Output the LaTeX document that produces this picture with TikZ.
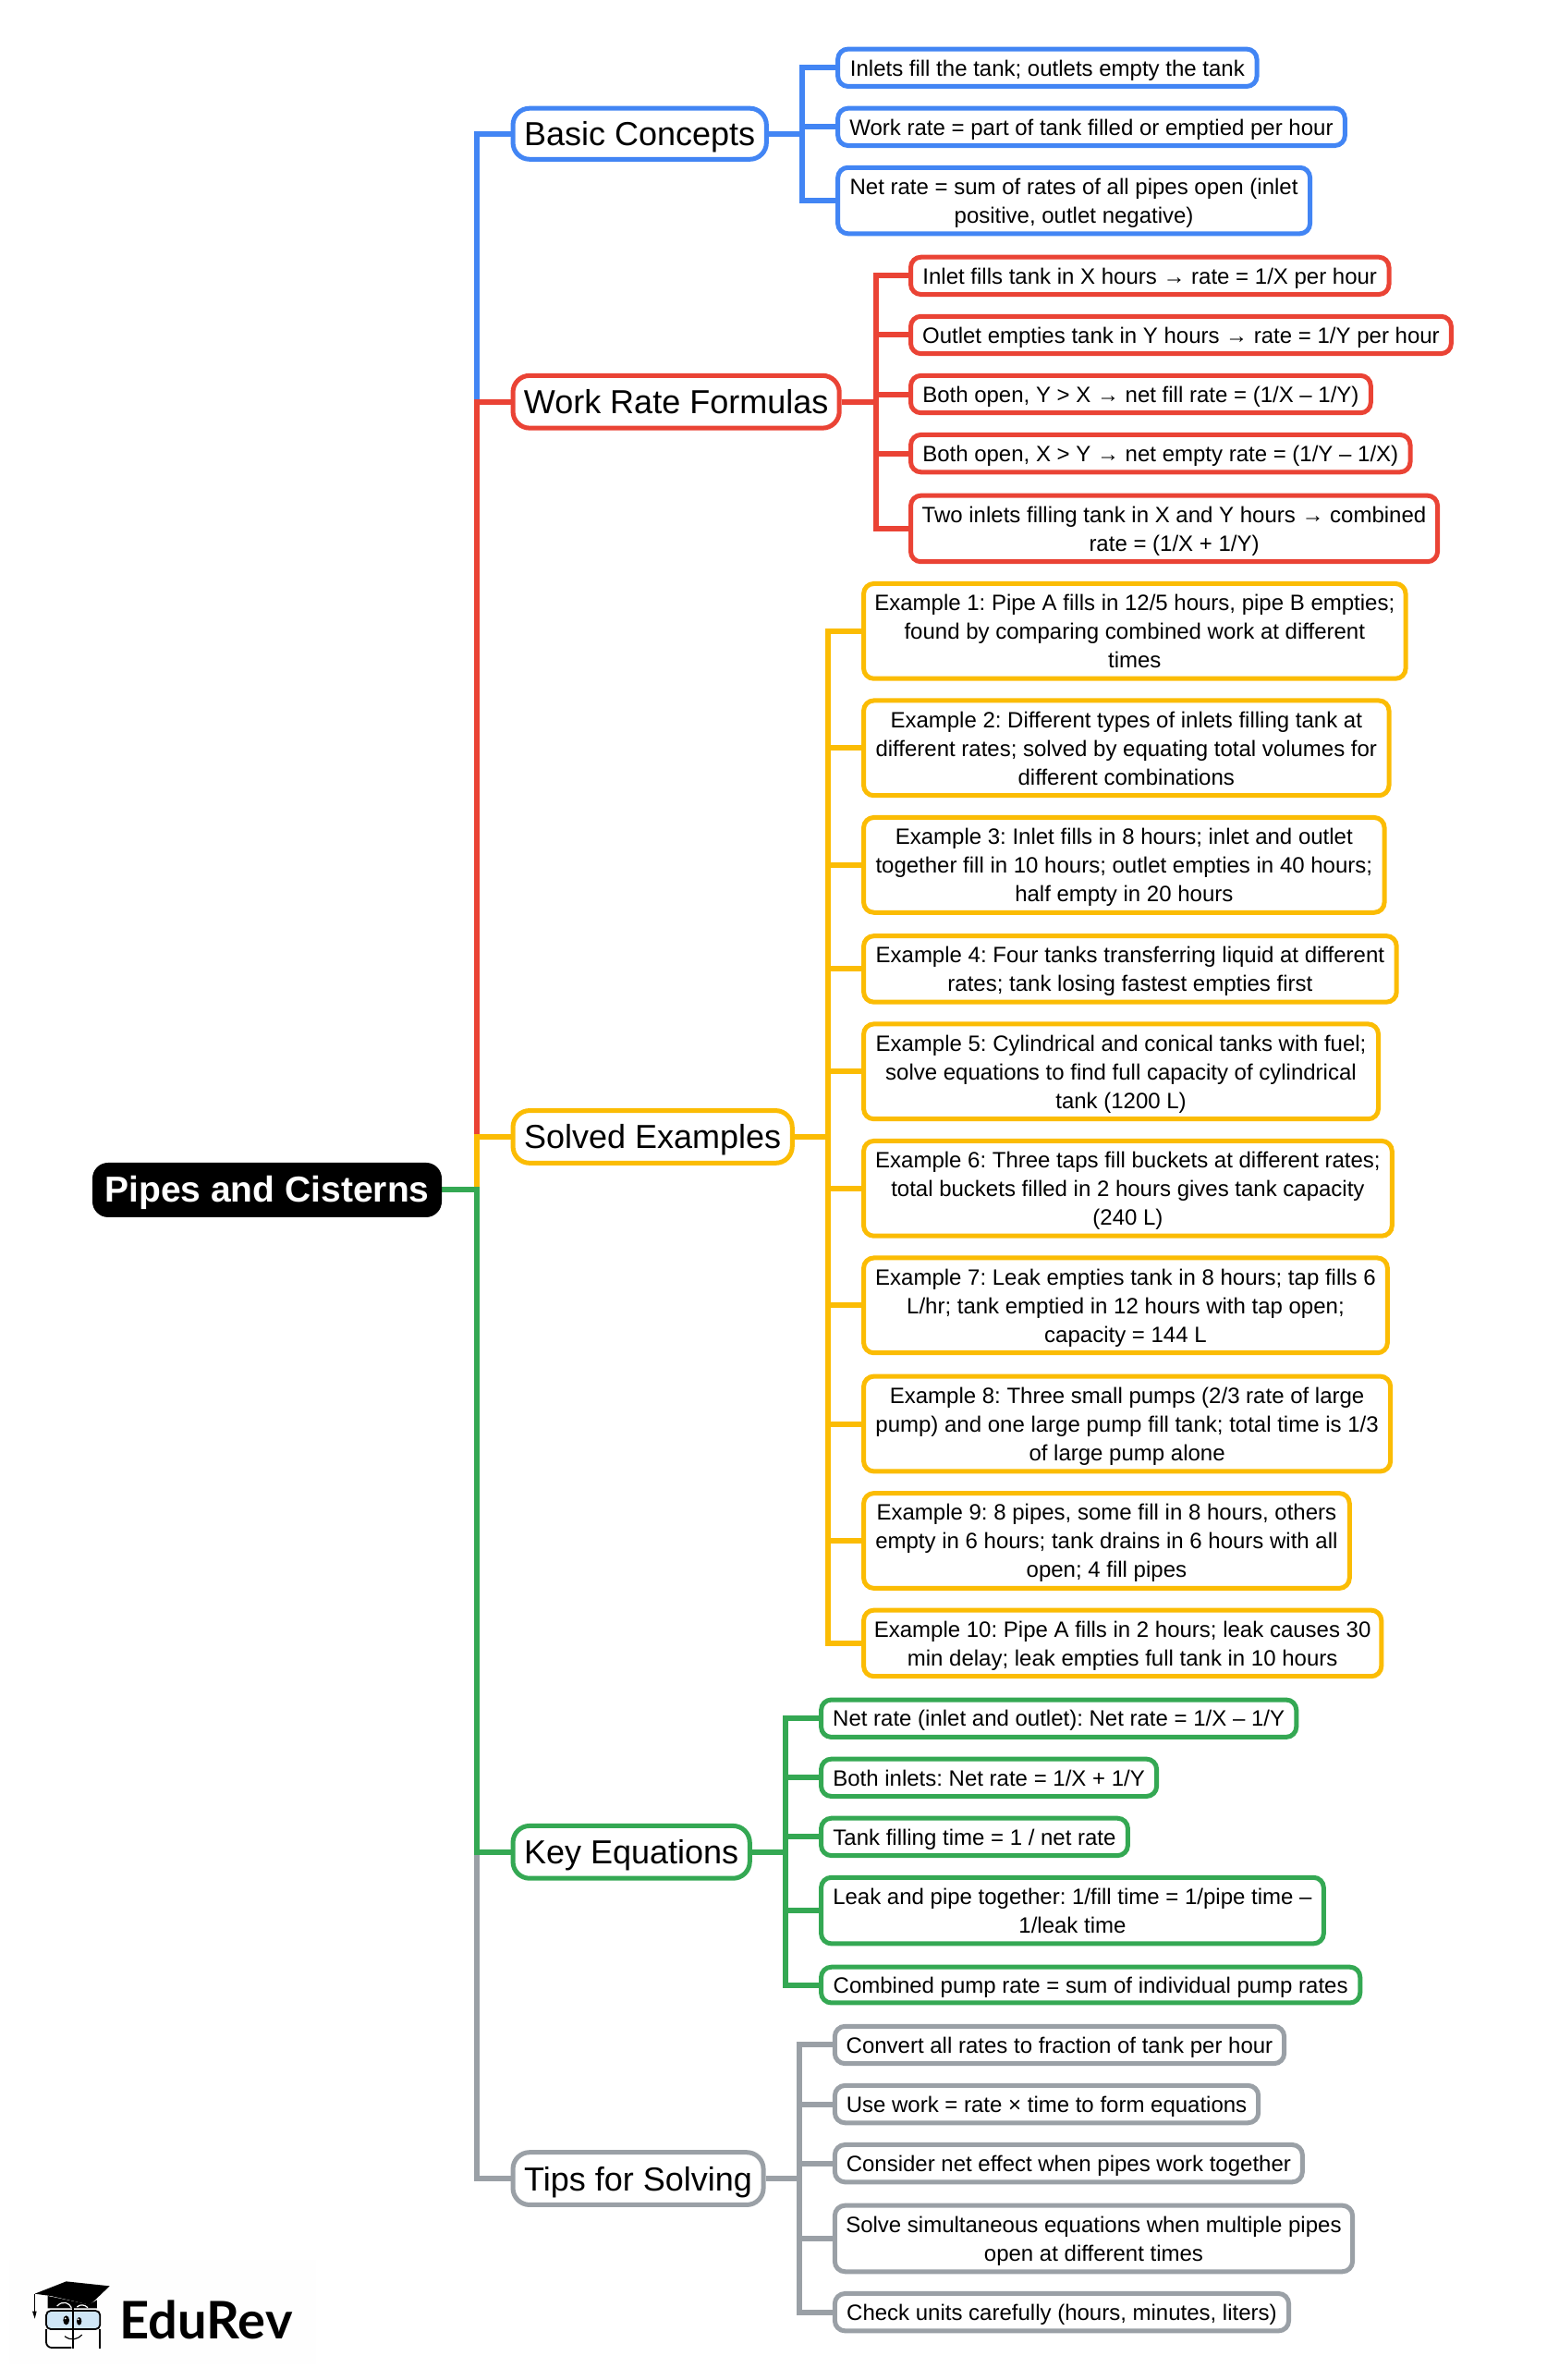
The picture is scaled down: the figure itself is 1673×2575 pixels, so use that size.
\documentclass[tikz,border=0pt]{standalone}
\usepackage{fontspec}
\setmainfont{Liberation Sans}
\newfontfamily\logofont{Lato}
\frenchspacing
\definecolor{cblue}{HTML}{4285F4}
\definecolor{cred}{HTML}{EA4335}
\definecolor{cyellow}{HTML}{FBBC04}
\definecolor{cgreen}{HTML}{34A853}
\definecolor{cgray}{HTML}{9AA0A6}
\definecolor{glass}{HTML}{CFE6F6}
\pgfdeclarelayer{bg}
\pgfsetlayers{bg,main}
\tikzset{
  box/.style={fill=white,line width=5pt,inner sep=0pt,align=center,text=black},
  leafbox/.style={box,draw=#1,rounded corners=11pt,font=\fontsize{24}{31}\selectfont},
  topicbox/.style={box,draw=#1,rounded corners=18pt,font=\fontsize{36}{42}\selectfont},
  rootbox/.style={fill=black,text=white,inner sep=0pt,align=center,rounded corners=17pt,font=\fontsize{39}{44}\selectfont\bfseries},
  link/.style={line width=6pt,line join=miter,line cap=butt},
}
% name, style, left, right, top, bottom, text (display coordinates)
\newcommand{\bx}[7]{\node[#2,minimum width={(#4-#3+1)*1.643pt-5pt},minimum height={(#6-#5+1.6)*1.643pt-5pt}] (#1) at ({(#3+#4-.4)/2},{(#5+#6-.8)/2}) {\rule{0pt}{25.5pt}#7\rule[-8pt]{0pt}{8pt}};}
\newcommand{\tx}[7]{\node[#2,minimum width={(#4-#3+1)*1.643pt-5pt},minimum height={(#6-#5+1.6)*1.643pt-5pt}] (#1) at ({(#3+#4-.4)/2},{(#5+#6-.8)/2}) {\rule{0pt}{37pt}#7\rule[-11pt]{0pt}{11pt}};}
\newcommand{\lk}[4]{\draw[link,#1] (#2.east) -- (#2.east -| #4) -- (#3.west -| #4) -- (#3.west);}
\begin{document}
\begin{tikzpicture}[x=1.643pt,y=-1.643pt]
\useasboundingbox (0pt,0pt) rectangle (1673pt,-2575pt);
% root
\node[rootbox,minimum width={378pt},minimum height={59pt}] (root) at (175.9,783.6) {\rule{0pt}{37pt}Pipes and Cisterns\rule[-11pt]{0pt}{11pt}};
% topics
\tx{tA}{topicbox=cblue}{337}{506}{71}{106}{Basic Concepts}
\tx{tB}{topicbox=cred}{337}{554}{247}{283}{Work Rate Formulas}
\tx{tC}{topicbox=cyellow}{337}{523}{731}{767}{Solved Examples}
\tx{tD}{topicbox=cgreen}{337}{495}{1202}{1238}{Key Equations}
\tx{tE}{topicbox=cgray}{337}{504}{1417}{1453}{Tips for Solving}
% blue leaves
\bx{a1}{leafbox=cblue}{551}{829}{32}{58}{Inlets fill the tank; outlets empty the tank}
\bx{a2}{leafbox=cblue}{551}{887}{71}{97}{Work rate = part of tank filled or emptied per hour}
\bx{a3}{leafbox=cblue}{551}{864}{110}{155}{Net rate = sum of rates of all pipes open (inlet\\positive, outlet negative)}
% red leaves
\bx{b1}{leafbox=cred}{599}{916}{169}{195}{Inlet fills tank in X hours → rate = 1/X per hour}
\bx{b2}{leafbox=cred}{599}{957}{208}{234}{Outlet empties tank in Y hours → rate = 1/Y per hour}
\bx{b3}{leafbox=cred}{599}{904}{247}{273}{Both open, Y > X → net fill rate = (1/X – 1/Y)}
\bx{b4}{leafbox=cred}{599}{930}{286}{312}{Both open, X > Y → net empty rate = (1/Y – 1/X)}
\bx{b5}{leafbox=cred}{599}{948}{326}{371}{Two inlets filling tank in X and Y hours → combined\\rate = (1/X + 1/Y)}
% yellow leaves
\bx{c1}{leafbox=cyellow}{568}{927}{384}{448}{Example 1: Pipe A fills in 12/5 hours, pipe B empties;\\found by comparing combined work at different\\times}
\bx{c2}{leafbox=cyellow}{568}{916}{461}{525}{Example 2: Different types of inlets filling tank at\\different rates; solved by equating total volumes for\\different combinations}
\bx{c3}{leafbox=cyellow}{568}{913}{538}{602}{Example 3: Inlet fills in 8 hours; inlet and outlet\\together fill in 10 hours; outlet empties in 40 hours;\\half empty in 20 hours}
\bx{c4}{leafbox=cyellow}{568}{921}{616}{661}{Example 4: Four tanks transferring liquid at different\\rates; tank losing fastest empties first}
\bx{c5}{leafbox=cyellow}{568}{909}{674}{738}{Example 5: Cylindrical and conical tanks with fuel;\\solve equations to find full capacity of cylindrical\\tank (1200 L)}
\bx{c6}{leafbox=cyellow}{568}{918}{751}{815}{Example 6: Three taps fill buckets at different rates;\\total buckets filled in 2 hours gives tank capacity\\(240 L)}
\bx{c7}{leafbox=cyellow}{568}{915}{828}{892}{Example 7: Leak empties tank in 8 hours; tap fills 6\\L/hr; tank emptied in 12 hours with tap open;\\capacity = 144 L}
\bx{c8}{leafbox=cyellow}{568}{917}{906}{970}{Example 8: Three small pumps (2/3 rate of large\\pump) and one large pump fill tank; total time is 1/3\\of large pump alone}
\bx{c9}{leafbox=cyellow}{568}{890}{983}{1047}{Example 9: 8 pipes, some fill in 8 hours, others\\empty in 6 hours; tank drains in 6 hours with all\\open; 4 fill pipes}
\bx{c10}{leafbox=cyellow}{568}{911}{1060}{1105}{Example 10: Pipe A fills in 2 hours; leak causes 30\\min delay; leak empties full tank in 10 hours}
% green leaves
\bx{d1}{leafbox=cgreen}{540}{855}{1119}{1145}{Net rate (inlet and outlet): Net rate = 1/X – 1/Y}
\bx{d2}{leafbox=cgreen}{540}{763}{1158}{1184}{Both inlets: Net rate = 1/X + 1/Y}
\bx{d3}{leafbox=cgreen}{540}{744}{1197}{1223}{Tank filling time = 1 / net rate}
\bx{d4}{leafbox=cgreen}{540}{873}{1236}{1281}{Leak and pipe together: 1/fill time = 1/pipe time –\\1/leak time}
\bx{d5}{leafbox=cgreen}{540}{897}{1295}{1320}{Combined pump rate = sum of individual pump rates}
% gray leaves
\bx{e1}{leafbox=cgray}{549}{847}{1334}{1360}{Convert all rates to fraction of tank per hour}
\bx{e2}{leafbox=cgray}{549}{830}{1373}{1399}{Use work = rate × time to form equations}
\bx{e3}{leafbox=cgray}{549}{859}{1412}{1438}{Consider net effect when pipes work together}
\bx{e4}{leafbox=cgray}{549}{892}{1452}{1497}{Solve simultaneous equations when multiple pipes\\open at different times}
\bx{e5}{leafbox=cgray}{549}{850}{1510}{1536}{Check units carefully (hours, minutes, liters)}
% branch columns
\coordinate (trunk) at (314,0);
\coordinate (xa) at (528.3,0);
\coordinate (xb) at (576.7,0);
\coordinate (xc) at (545.3,0);
\coordinate (xd) at (517.3,0);
\coordinate (xe) at (526.3,0);
\begin{pgfonlayer}{bg}
\foreach \tt/\cc in {tA/cblue,tB/cred,tC/cyellow,tE/cgray,tD/cgreen}{\lk{\cc}{root}{\tt}{trunk}}
\foreach \ll in {a1,a2,a3}{\lk{cblue}{tA}{\ll}{xa}}
\foreach \ll in {b1,b2,b3,b4,b5}{\lk{cred}{tB}{\ll}{xb}}
\foreach \ll in {c1,c2,c3,c4,c5,c6,c7,c8,c9,c10}{\lk{cyellow}{tC}{\ll}{xc}}
\foreach \ll in {d1,d2,d3,d4,d5}{\lk{cgreen}{tD}{\ll}{xd}}
\foreach \ll in {e1,e2,e3,e4,e5}{\lk{cgray}{tE}{\ll}{xe}}
\end{pgfonlayer}
% logo
\begin{scope}[shift={(0pt,-2380pt)},x=.33333pt,y=-.33333pt]
\fill[black!.4] (30,195) rectangle (1025,535);
\draw[line width=1.6pt,line join=round] (112,305) -- (112,362);
\fill (105,362) -- (119,362) -- (113,386) -- cycle;
\fill (155,312) -- (155,352) -- (315,352) -- (315,325) -- (290,340) -- cycle;
\fill (113,305) -- (215,265) -- (356,280) -- (292,341) -- (165,312) -- cycle;
\draw[white,line width=1.2pt] (185,345) .. controls (205,325) and (225,335) .. (232,350);
\draw[white,line width=1.2pt] (250,348) .. controls (260,338) and (275,340) .. (285,350);
\draw[fill=glass,line width=1.8pt,rounded corners=5pt] (150,360) rectangle (325,420);
\draw[line width=1.8pt,rounded corners=6pt] (150,420) -- (150,480) -- (232,480);
\draw[line width=1.8pt,rounded corners=6pt] (325,420) -- (325,482);
\draw[line width=2.4pt] (237,350) -- (237,482);
\fill (215,391) ellipse [x radius=10,y radius=15];
\fill (257,394) ellipse [x radius=8,y radius=13];
\fill[white] (212,385) circle [radius=3];
\fill[white] (254,388) circle [radius=3];
\draw[line width=1.2pt] (210,443) .. controls (230,458) and (250,455) .. (266,438);
\node[anchor=base west,inner sep=0pt,font=\logofont\bfseries\fontsize{56}{62}\selectfont] (logo) at (388,450) {EduRev};
\end{scope}
\end{tikzpicture}
\end{document}
